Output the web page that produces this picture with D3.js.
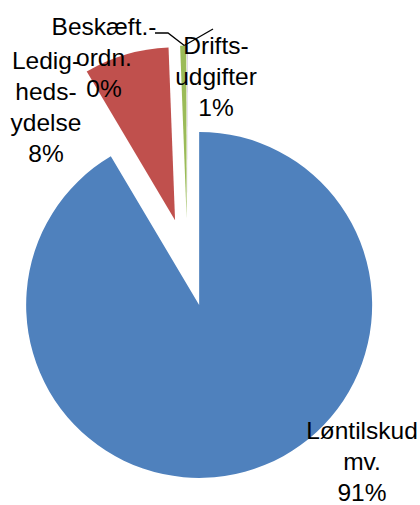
<!DOCTYPE html>
<html>
<head>
<meta charset="utf-8">
<script src="https://cdn.jsdelivr.net/npm/d3@7"></script>
<style>
  body { margin: 0; background: #fff; }
  svg { display: block; }
  text { font-family: "Liberation Sans", Arial, sans-serif; font-size: 24.5px; fill: #000; }
</style>
</head>
<body>
<script>
var width = 420, height = 505;

// data, in drawing order (clockwise from 12 o'clock)
var categories = ["Løntilskud mv.", "Ledighedsydelse", "Driftsudgifter", "Beskæft.-ordn."];
var values = [91.47, 7.93, 0.57, 0.03];
var colors = ["#4F81BD", "#C0504D", "#9BBB59", "#8064A2"];
// label lines as shown in the chart
var labelLines = [
  ["Løntilskud", "mv.", "91%"],
  ["Ledig-", "heds-", "ydelse", "8%"],
  ["Drifts-", "udgifter", "1%"],
  ["Beskæft.-", "ordn.", "0%"]
];

var cx = 187.5, cy = 262.5,
    radius = 173,
    explode = 44,
    lineStep = 31;

// label anchor (center x, first baseline)
var labelPos = [[362, 439], [46, 69], [216, 54], [104, 35]];

var svg = d3.select("body").append("svg")
    .attr("width", width)
    .attr("height", height);

var pie = d3.pie().sort(null).value(function(d) { return d; });
var arc = d3.arc().innerRadius(0).outerRadius(radius);

var arcs = pie(values);

function offset(d) {
  var a = (d.startAngle + d.endAngle) / 2;
  return [explode * Math.sin(a), -explode * Math.cos(a)];
}

var g = svg.append("g")
    .attr("transform", "translate(" + cx + "," + cy + ")");

g.selectAll("path.slice")
    .data(arcs)
    .enter()
    .append("path")
    .attr("class", "slice")
    .attr("d", arc)
    .attr("fill", function(d, i) { return colors[i]; })
    .attr("transform", function(d) {
      var o = offset(d);
      return "translate(" + o[0] + "," + o[1] + ")";
    });

// leader lines for the two thin slices
var outer = arcs.map(function(d) {
  var a = (d.startAngle + d.endAngle) / 2, o = offset(d);
  return [cx + o[0] + radius * Math.sin(a), cy + o[1] - radius * Math.cos(a)];
});
var tip = outer[3];
svg.append("path")
    .attr("d", d3.line()([[155, 33], [168, 33], [tip[0] - 3, tip[1]]]))
    .attr("fill", "none")
    .attr("stroke", "#000")
    .attr("stroke-width", 1.3);
svg.append("path")
    .attr("d", d3.line()([[tip[0] - 3, tip[1]], [213, 29]]))
    .attr("fill", "none")
    .attr("stroke", "#000")
    .attr("stroke-width", 1.3);

// data labels
var labels = svg.selectAll("text.lbl")
    .data(labelLines)
    .enter()
    .append("text")
    .attr("class", "lbl")
    .attr("text-anchor", "middle");

labels.each(function(lines, i) {
  var t = d3.select(this);
  lines.forEach(function(s, j) {
    t.append("tspan")
      .attr("x", labelPos[i][0])
      .attr("y", labelPos[i][1] + j * lineStep)
      .text(s);
  });
});
</script>
</body>
</html>
